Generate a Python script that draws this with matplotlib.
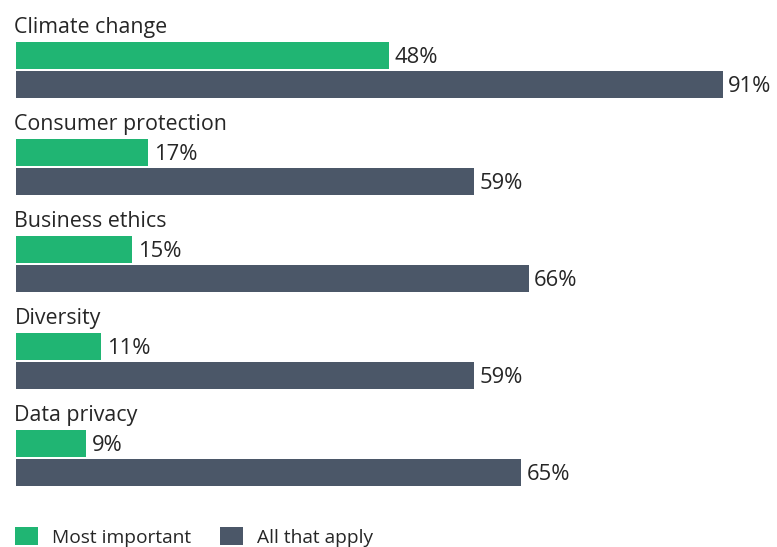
import matplotlib
matplotlib.use("Agg")
import matplotlib.pyplot as plt
from matplotlib.patches import Patch
import numpy as np

categories = ["Climate change", "Consumer protection", "Business ethics", "Diversity", "Data privacy"]
most_important = [48, 17, 15, 11, 9]
all_that_apply = [91, 59, 66, 59, 65]
series_names = ["Most important", "All that apply"]

GREEN = "#20b573"
SLATE = "#4b5768"
TEXT = "#262626"

plt.rcParams["font.family"] = ["Open Sans", "DejaVu Sans"]

W, H = 777, 547
fig = plt.figure(figsize=(W / 100, H / 100), dpi=100)
ax = fig.add_axes([0, 0, 1, 1])

# one category band is 97 px tall; x is scaled so 91% spans the bar area
band = 97
px_per_unit = (722.7 - 16) / 91
ax.set_xlim(-16 / px_per_unit, (W - 16) / px_per_unit)
ax.set_ylim((H - 70) / band, -70 / band)
ax.axis("off")

y = np.arange(len(categories))
off = 14.5 / band
bh = 27 / band

ax.barh(y - off, most_important, height=bh, color=GREEN, left=0)
ax.barh(y + off, all_that_apply, height=bh, color=SLATE, left=0)

pad = 5.5 / px_per_unit
base_shift = 7.3 / band
fs_cat = 15.4
fs_val = 15.8
for yi, v in zip(y, most_important):
    ax.text(v + pad, yi - off + base_shift, f"{v}%", va="baseline", ha="left",
            fontsize=fs_val, color=TEXT)
for yi, v in zip(y, all_that_apply):
    ax.text(v + pad, yi + off + base_shift, f"{v}%", va="baseline", ha="left",
            fontsize=fs_val, color=TEXT)
for yi, c in zip(y, categories):
    ax.text(-1.5 / px_per_unit, yi - 36.7 / band, c, va="baseline", ha="left",
            fontsize=fs_cat, color=TEXT)

fs_leg = 13.8
em = fs_leg * 100 / 72
handles = [Patch(facecolor=GREEN), Patch(facecolor=SLATE)]
leg = fig.legend(handles, series_names, loc="center left",
                 bbox_to_anchor=(15 / W, 1 - 537 / H), ncol=2, frameon=False,
                 fontsize=fs_leg, handlelength=23 / em, handleheight=20 / em,
                 handletextpad=14 / em, columnspacing=29 / em, labelcolor=TEXT,
                 borderpad=0, borderaxespad=0)

fig.savefig("out.png", dpi=100)
